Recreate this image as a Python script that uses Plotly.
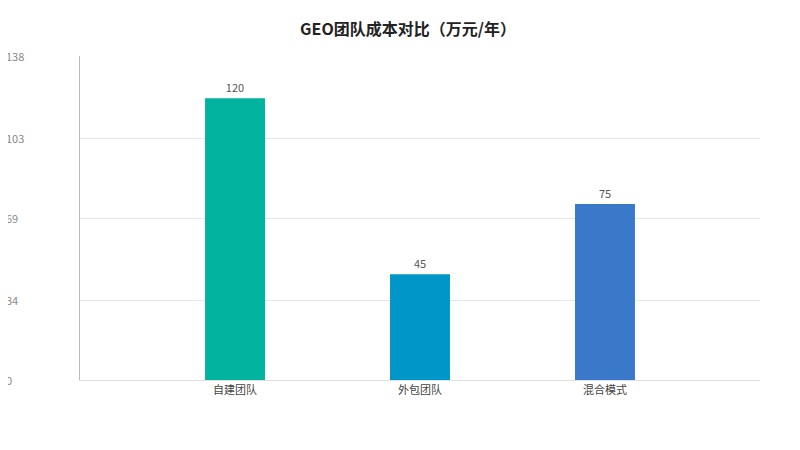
import plotly.graph_objects as go

categories = ["自建团队", "外包团队", "混合模式"]
values = [120, 45, 75]
colors = ["#00b39e", "#0096c7", "#3a78c9"]
tick_vals = [0, 34, 69, 103, 138]
tick_text = ["0", "34", "69", "103", "138"]

fig = go.Figure(go.Bar(
    x=categories, y=values, marker=dict(color=colors, line=dict(width=0)),
    width=0.324, text=values, textposition="outside",
    textfont=dict(size=11, color="#555555"), cliponaxis=False,
))

# y tick labels sit at the far left edge of the chart
for v, t in zip(tick_vals, tick_text):
    fig.add_annotation(x=-0.112, xref="paper", y=v, yref="y", text=t, showarrow=False,
                       xanchor="left", font=dict(size=11, color="#888888"))

fig.update_layout(
    width=800, height=450,
    title=dict(text="<b>GEO团队成本对比（万元/年）</b>", x=0.5, y=0.965,
               font=dict(size=16, color="#222222")),
    font=dict(family="Noto Sans CJK SC", size=11, color="#444444"),
    paper_bgcolor="white", plot_bgcolor="white",
    margin=dict(l=72, r=48, t=48, b=78),
    showlegend=False,
    xaxis=dict(range=[-0.838, 2.838], showline=True, linecolor="#e0e0e0",
               ticks="", tickfont=dict(size=11, color="#444444")),
    yaxis=dict(range=[0, 138], tickvals=tick_vals, showticklabels=False,
               showgrid=True, gridcolor="#e6e6e6", zeroline=False,
               showline=True, linecolor="#bbbbbb"),
)

fig.write_html("out.html")
